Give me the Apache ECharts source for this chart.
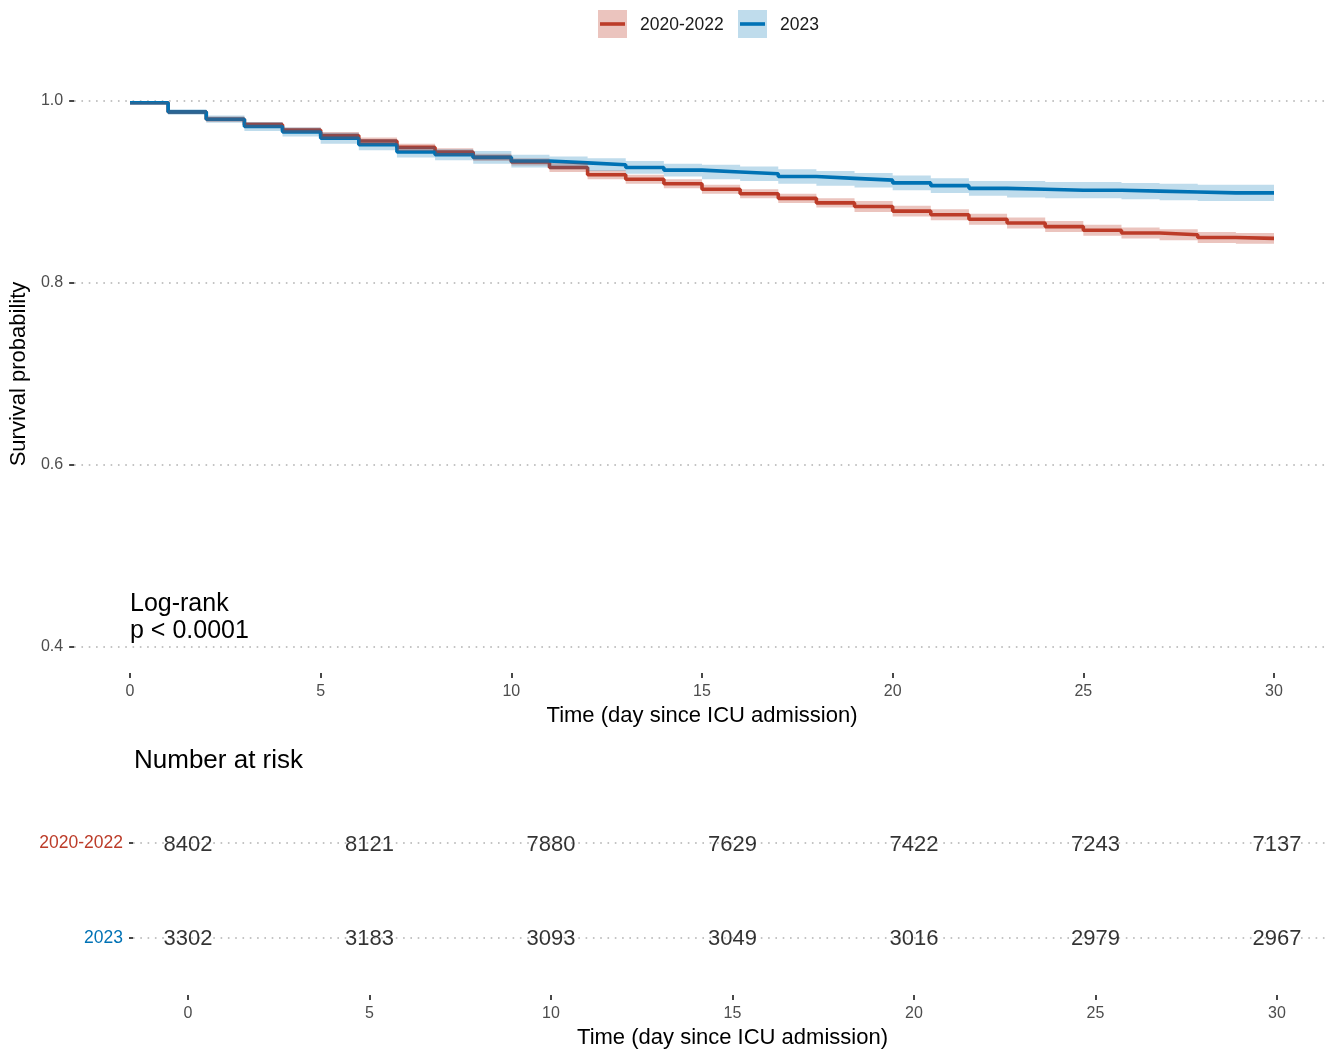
<!DOCTYPE html>
<html>
<head>
<meta charset="utf-8">
<style>
  html, body { margin: 0; padding: 0; background: #ffffff; }
  #chart { width: 1328px; height: 1050px; }
</style>
<script src="https://cdn.jsdelivr.net/npm/echarts@6/dist/echarts.min.js"></script>
</head>
<body>
<div id="chart"></div>
<script>
// ---------------- data ----------------
const groups = ['2020-2022', '2023'];
const days = [0,1,2,3,4,5,6,7,8,9,10,11,12,13,14,15,16,17,18,19,20,21,22,23,24,25,26,27,28,29,30];

const surv2020 = [0.998,0.988,0.980,0.974,0.968,0.962,0.956,0.949,0.944,0.938,0.933,0.927,0.919,0.914,0.909,0.903,0.898,0.893,0.888,0.884,0.879,0.875,0.870,0.866,0.862,0.858,0.855,0.853,0.850,0.849,0.849];
const lower2020 = [0.997,0.986,0.977,0.971,0.965,0.958,0.952,0.945,0.940,0.934,0.929,0.922,0.914,0.909,0.904,0.898,0.893,0.888,0.883,0.878,0.873,0.869,0.864,0.860,0.856,0.852,0.849,0.847,0.844,0.843,0.843];
const upper2020 = [0.999,0.990,0.983,0.977,0.971,0.966,0.960,0.953,0.948,0.942,0.937,0.932,0.924,0.919,0.914,0.908,0.903,0.898,0.893,0.890,0.885,0.881,0.876,0.872,0.868,0.864,0.861,0.859,0.856,0.855,0.855];

const surv2023 = [0.998,0.988,0.980,0.972,0.966,0.959,0.952,0.944,0.941,0.938,0.934,0.932,0.930,0.927,0.924,0.922,0.920,0.917,0.915,0.913,0.910,0.907,0.904,0.903,0.902,0.902,0.901,0.900,0.899,0.899,0.899];
const lower2023 = [0.997,0.985,0.976,0.967,0.961,0.953,0.946,0.938,0.935,0.931,0.927,0.925,0.923,0.920,0.917,0.914,0.912,0.909,0.907,0.905,0.902,0.899,0.896,0.894,0.893,0.893,0.892,0.891,0.890,0.890,0.890];
const upper2023 = [0.999,0.991,0.984,0.977,0.971,0.965,0.958,0.950,0.947,0.945,0.941,0.939,0.937,0.934,0.931,0.930,0.928,0.925,0.923,0.921,0.918,0.915,0.912,0.912,0.911,0.911,0.910,0.909,0.908,0.908,0.908];

const riskTimes = [0,5,10,15,20,25,30];
const risk2020 = [8402,8121,7880,7629,7422,7243,7137];
const risk2023 = [3302,3183,3093,3049,3016,2979,2967];

const yTicks = [0.4, 0.6, 0.8, 1.0];

// ---------------- styles ----------------
const RED = '#BC3C29', BLUE = '#0072B5';
const RED_F = 'rgba(188,60,41,0.3)', BLUE_F = 'rgba(0,114,181,0.25)';
const FONT = '"Liberation Sans", Arial, Helvetica, sans-serif';
const gridDots = { type: [1.6, 5.7], width: 1.8, color: '#c4c4c4' };
const tickStyle = { color: '#333333', width: 1.8 };

const pairs = (xs, ys) => xs.map((x, i) => [x, ys[i]]);

// Confidence band as one step-shaped polygon, placed through the axes' scales
function bandSeries(name, lo, hi, fill) {
  return {
    name: name, type: 'custom', xAxisIndex: 1, yAxisIndex: 1, silent: true, z: 4,
    encode: { x: 0, y: [1, 2] },
    data: days.map((d, i) => [d, lo[i], hi[i]]),
    renderItem: function (params, api) {
      if (params.dataIndex !== 0) return null;
      const pts = [];
      for (let i = 0; i < days.length - 1; i++) {
        pts.push(api.coord([days[i], hi[i]]));
        pts.push(api.coord([days[i + 1], hi[i]]));
      }
      for (let i = days.length - 2; i >= 0; i--) {
        pts.push(api.coord([days[i + 1], lo[i]]));
        pts.push(api.coord([days[i], lo[i]]));
      }
      return { type: 'polygon', shape: { points: pts }, style: { fill: fill } };
    }
  };
}

const chart = echarts.init(document.getElementById('chart'), null, { renderer: 'canvas' });

const option = {
  backgroundColor: '#ffffff',
  animation: false,
  textStyle: { fontFamily: FONT },
  grid: [
    { left: 73, right: 0, top: 101, height: 546 },   // main background (gridlines, y ticks)
    { left: 130, right: 54, top: 101, height: 546 }, // main plot
    { left: 133, right: 0, top: 843, height: 95 },   // risk table background
    { left: 188, right: 51, top: 843, height: 95 }   // risk table numbers
  ],
  xAxis: [
    { gridIndex: 0, type: 'value', min: 0, max: 1, show: false },
    { gridIndex: 1, type: 'value', min: 0, max: 30, interval: 5, offset: 26,
      axisLine: { show: false }, axisTick: { show: true, length: 5, lineStyle: tickStyle },
      axisLabel: { fontSize: 16, color: '#4d4d4d', margin: 11, fontFamily: FONT },
      splitLine: { show: false },
      name: 'Time (day since ICU admission)', nameLocation: 'middle', nameGap: 32,
      nameTextStyle: { fontSize: 22, color: '#000000', fontFamily: FONT } },
    { gridIndex: 2, type: 'value', min: 0, max: 1, show: false },
    { gridIndex: 3, type: 'value', min: 0, max: 30, interval: 5, offset: 58,
      axisLine: { show: false }, axisTick: { show: true, length: 5, lineStyle: tickStyle },
      axisLabel: { fontSize: 16, color: '#4d4d4d', margin: 11, fontFamily: FONT },
      splitLine: { show: false },
      name: 'Time (day since ICU admission)', nameLocation: 'middle', nameGap: 32,
      nameTextStyle: { fontSize: 22, color: '#000000', fontFamily: FONT } }
  ],
  yAxis: [
    { gridIndex: 0, type: 'value', min: yTicks[0], max: yTicks[yTicks.length - 1], interval: 0.2,
      axisLine: { show: false }, axisTick: { show: true, length: 5, lineStyle: tickStyle },
      axisLabel: { fontSize: 16, color: '#4d4d4d', margin: 11, fontFamily: FONT,
                   formatter: v => v.toFixed(1) },
      splitLine: { show: true, lineStyle: gridDots },
      name: 'Survival probability', nameLocation: 'middle', nameGap: 42,
      nameTextStyle: { fontSize: 22, color: '#000000', fontFamily: FONT } },
    { gridIndex: 1, type: 'value', min: 0.4, max: 1.0, show: false },
    { gridIndex: 2, type: 'category', data: groups, boundaryGap: false, inverse: true,
      axisLine: { show: false }, axisTick: { show: true, length: 4, lineStyle: tickStyle },
      axisLabel: { fontSize: 17.5, margin: 10, fontFamily: FONT,
                   color: (v, i) => (v === groups[0] ? RED : BLUE) },
      splitLine: { show: true, lineStyle: gridDots } },
    { gridIndex: 3, type: 'category', data: groups, boundaryGap: false, inverse: true, show: false }
  ],
  series: [
    { name: groups[0], type: 'line', xAxisIndex: 1, yAxisIndex: 1, step: 'end', symbol: 'none',
      lineStyle: { color: RED, width: 3.6 }, itemStyle: { color: RED }, data: pairs(days, surv2020), z: 3 },
    { name: groups[1], type: 'line', xAxisIndex: 1, yAxisIndex: 1, step: 'end', symbol: 'none',
      lineStyle: { color: BLUE, width: 3.6 }, itemStyle: { color: BLUE }, data: pairs(days, surv2023), z: 3 },
    bandSeries('band2020', lower2020, upper2020, RED_F),
    bandSeries('band2023', lower2023, upper2023, BLUE_F),
    { name: 'risk', type: 'scatter', xAxisIndex: 3, yAxisIndex: 3, symbolSize: 1, silent: true,
      itemStyle: { color: 'rgba(0,0,0,0)' },
      label: { show: true, position: 'inside', fontSize: 22, color: '#000000', fontFamily: FONT,
               offset: [0, 2], formatter: p => String(p.value[2]) },
      data: riskTimes.map((t, i) => [t, groups[0], risk2020[i]])
              .concat(riskTimes.map((t, i) => [t, groups[1], risk2023[i]])) }
  ],
  graphic: [
    // legend
    { type: 'rect', shape: { x: 598, y: 10, width: 29, height: 28 }, style: { fill: RED_F } },
    { type: 'line', shape: { x1: 600, y1: 24, x2: 625, y2: 24 }, style: { stroke: RED, lineWidth: 3.6 } },
    { type: 'text', x: 640, y: 25, style: { text: groups[0], fontSize: 17.5, fill: '#1a1a1a',
      fontFamily: FONT, verticalAlign: 'middle' } },
    { type: 'rect', shape: { x: 738, y: 10, width: 29, height: 28 }, style: { fill: BLUE_F } },
    { type: 'line', shape: { x1: 740, y1: 24, x2: 765, y2: 24 }, style: { stroke: BLUE, lineWidth: 3.6 } },
    { type: 'text', x: 780, y: 25, style: { text: groups[1], fontSize: 17.5, fill: '#1a1a1a',
      fontFamily: FONT, verticalAlign: 'middle' } },
    // annotations
    { type: 'text', x: 130, y: 591, style: { text: 'Log-rank\np < 0.0001', fontSize: 25, lineHeight: 27,
      fill: '#000000', fontFamily: FONT } },
    { type: 'text', x: 134, y: 761, style: { text: 'Number at risk', fontSize: 26, fill: '#000000',
      fontFamily: FONT, verticalAlign: 'middle' } }
  ]
};

chart.setOption(option);
</script>
</body>
</html>
